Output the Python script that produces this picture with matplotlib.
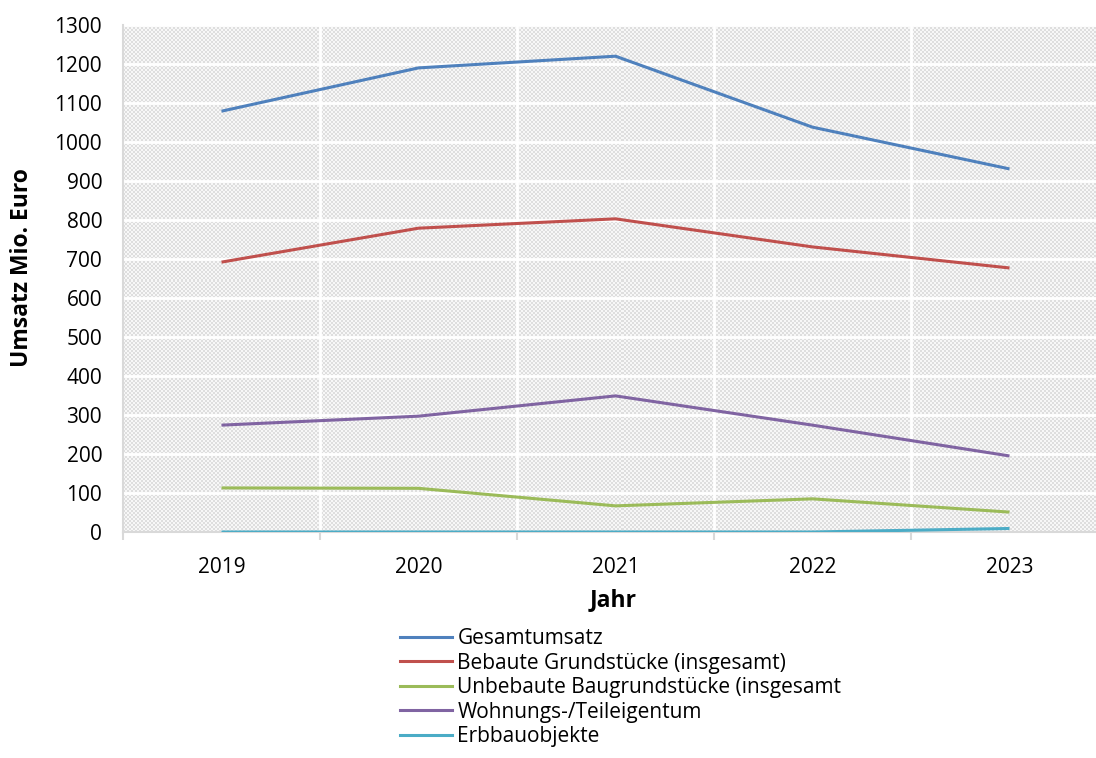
import numpy as np
import matplotlib.pyplot as plt
from matplotlib.colors import ListedColormap
from matplotlib.lines import Line2D

plt.rcParams['font.family'] = ['Open Sans', 'DejaVu Sans']

years = ['2019', '2020', '2021', '2022', '2023']
gesamt = [1079, 1190, 1220, 1038, 931]
bebaut = [692, 779, 803, 731, 677]
unbebaut = [113, 112, 67, 85, 51]
wohnung = [274, 297, 349, 274, 195]
erbbau = [0, 0, 0, 0, 9]

series_names = ['Gesamtumsatz', 'Bebaute Grundstücke (insgesamt)',
                'Unbebaute Baugrundstücke (insgesamt', 'Wohnungs-/Teileigentum',
                'Erbbauobjekte']
series_values = [gesamt, bebaut, unbebaut, wohnung, erbbau]
colors = ['#4F81BD', '#C0504D', '#9BBB59', '#8064A2', '#4BACC6']
yticks = list(range(0, 1301, 100))

W, H = 1096, 758
fig = plt.figure(figsize=(W / 100, H / 100), dpi=100)
# plot area in pixels: left 123, right 1108 (runs past the canvas), top 25, bottom 532
ax = fig.add_axes([123 / W, (H - 532) / H, (1108 - 123) / W, (532 - 25) / H])

# fine checker fill for the plot area
n_x, n_y = (1108 - 123) // 2, (532 - 25) // 2
checker = (np.indices((n_y, n_x)).sum(axis=0) % 2).astype(float)
ax.imshow(checker, cmap=ListedColormap(['#dedede', '#f7f7f7']),
          extent=(0, 1, 0, 1), transform=ax.transAxes, aspect='auto',
          interpolation='nearest', zorder=0)

x = np.arange(len(years))
ax.set_xlim(-0.5, 4.5)
ax.set_ylim(0, 1300)

# white grid lines
for yv in yticks[1:]:
    ax.axhline(yv, color='white', lw=2, zorder=1)
for xv in np.arange(-0.5, 4.6, 1.0)[1:]:
    ax.axvline(xv, color='white', lw=2, zorder=1)

for vals, c in zip(series_values, colors):
    ax.plot(x, vals, color=c, lw=2.2, zorder=3, solid_capstyle='butt')

ax.set_yticks(yticks)
ax.set_yticklabels([str(v) for v in yticks], fontsize=15)
ax.set_xticks(x)
ax.set_xticklabels(years, fontsize=15)
ax.tick_params(axis='x', length=0, pad=18)
ax.tick_params(axis='y', length=0, pad=15)
# minor ticks on category boundaries
ax.set_xticks(np.arange(-0.5, 4.6, 1.0), minor=True)
ax.tick_params(axis='x', which='minor', length=6, width=1.5, color='#d9d9d9', direction='out')

for s in ['top', 'right']:
    ax.spines[s].set_visible(False)
ax.spines['left'].set_color('#d9d9d9')
ax.spines['left'].set_linewidth(1.5)
ax.spines['bottom'].set_color('#d9d9d9')
ax.spines['bottom'].set_linewidth(1.5)
ax.spines['bottom'].set_zorder(2)

fig.text(22 / W, 1 - 268 / H, 'Umsatz Mio. Euro', rotation=90, ha='center', va='center',
         fontsize=16.5, fontweight='bold')
fig.text(613 / W, 1 - 600 / H, 'Jahr', ha='center', va='center',
         fontsize=16.5, fontweight='bold')

handles = [Line2D([0], [0], color=c, lw=2.2) for c in colors]
fig.legend(handles, series_names, loc='upper left', bbox_to_anchor=(400 / W, 1 - 628 / H),
           frameon=False, fontsize=15, handlelength=2.5, handletextpad=0.25,
           labelspacing=0.17, borderaxespad=0, borderpad=0)

fig.savefig('out.png', dpi=100)
